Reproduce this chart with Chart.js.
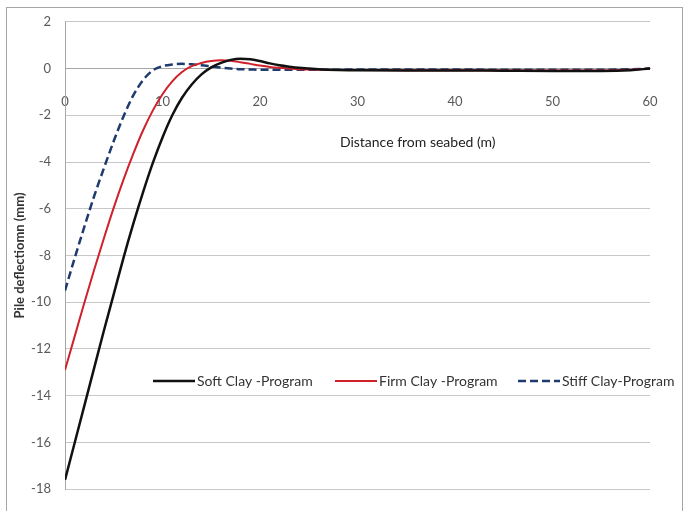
<!DOCTYPE html>
<html>
<head>
<meta charset="utf-8">
<script src="https://cdn.jsdelivr.net/npm/chart.js@4.4.1/dist/chart.umd.min.js"></script>
<style>
html, body { margin: 0; padding: 0; background: #fff; }
#wrap { position: relative; width: 685px; height: 511px; overflow: hidden; }
#frame { position: absolute; left: 6px; top: 7px; width: 677px; height: 510px; border: 1px solid #a6a6a6; box-sizing: border-box; }
canvas { position: absolute; left: 0; top: 0; }
</style>
</head>
<body>
<div id="wrap">
  <div id="frame"></div>
  <canvas id="deflChart" width="685" height="511"></canvas>
</div>
<script>
// distance from seabed (m)
const distance = [0, 1, 2, 3, 4, 5, 6, 7, 8, 9, 10, 11, 12, 13, 14, 15, 16, 17, 18, 19, 20,
    21, 22, 23, 24, 25, 26, 28, 30, 35, 40, 45, 50, 55, 58, 60];

// pile deflection (mm)
const softClay = [-17.6, -16.0, -14.4, -12.8, -11.2, -9.65, -8.1, -6.65, -5.3, -4.05, -2.95,
    -2.0, -1.25, -0.68, -0.25, 0.05, 0.24, 0.37, 0.42, 0.4, 0.32,
    0.22, 0.14, 0.08, 0.03, 0.0, -0.03, -0.06, -0.07, -0.08, -0.08, -0.09, -0.1, -0.1, -0.07, 0.0];
const firmClay = [-12.9, -11.45, -10.0, -8.6, -7.25, -5.95, -4.75, -3.65, -2.65, -1.8, -1.1,
    -0.55, -0.15, 0.1, 0.24, 0.32, 0.35, 0.33, 0.27, 0.2, 0.13,
    0.07, 0.03, 0.0, -0.03, -0.04, -0.05, -0.06, -0.06, -0.07, -0.07, -0.08, -0.08, -0.08, -0.05, 0.0];
const stiffClay = [-9.5, -8.1, -6.75, -5.45, -4.25, -3.1, -2.05, -1.15, -0.5, -0.08, 0.1,
    0.17, 0.2, 0.18, 0.14, 0.09, 0.04, 0.0, -0.03, -0.04, -0.05,
    -0.05, -0.05, -0.05, -0.05, -0.05, -0.05, -0.05, -0.04, -0.04, -0.04, -0.05, -0.05, -0.05, -0.03, 0.0];

const xTicks = [0, 10, 20, 30, 40, 50, 60];
const yTicks = [2, 0, -2, -4, -6, -8, -10, -12, -14, -16, -18];

const toPoints = (ys) => ys.map((y, i) => ({ x: distance[i], y: y }));

// legend sits inside the plot, like the Excel original
const legendX = [153, 335, 518];
const legendInPlot = {
    id: 'legendInPlot',
    afterDraw(chart) {
        const ctx = chart.ctx;
        const y = 381;
        ctx.save();
        ctx.font = '14px Lato';
        ctx.textBaseline = 'middle';
        chart.data.datasets.forEach((ds, i) => {
            const x = legendX[i];
            ctx.beginPath();
            ctx.setLineDash(ds.borderDash || []);
            ctx.strokeStyle = ds.borderColor;
            ctx.lineWidth = ds.borderWidth;
            ctx.moveTo(x, y);
            ctx.lineTo(x + 42, y);
            ctx.stroke();
            ctx.setLineDash([]);
            ctx.fillStyle = '#333';
            ctx.fillText(ds.label, x + 44, y);
        });
        ctx.restore();
    }
};

// x axis title is off-centre in the original
const xTitle = {
    id: 'xTitle',
    afterDraw(chart) {
        const ctx = chart.ctx;
        const area = chart.chartArea;
        ctx.save();
        ctx.font = '14px Lato';
        ctx.fillStyle = '#222';
        ctx.textAlign = 'center';
        ctx.textBaseline = 'middle';
        ctx.fillText('Distance from seabed (m)', area.left + (area.right - area.left) * 0.603, 142);
        ctx.restore();
    }
};

const ctx = document.getElementById('deflChart').getContext('2d');
const deflChart = new Chart(ctx, {
    type: 'line',
    data: {
        datasets: [
            {
                label: 'Soft Clay -Program',
                data: toPoints(softClay),
                borderColor: '#111111',
                borderWidth: 2.5,
            },
            {
                label: 'Firm Clay -Program',
                data: toPoints(firmClay),
                borderColor: '#d0202a',
                borderWidth: 2,
            },
            {
                label: 'Stiff Clay-Program',
                data: toPoints(stiffClay),
                borderColor: '#1f3a6e',
                borderWidth: 2.5,
                borderDash: [8, 4],
            },
        ],
    },
    options: {
        responsive: false,
        animation: false,
        layout: { padding: { left: 0, top: 20, right: 35, bottom: 11 } },
        elements: {
            point: { radius: 0 },
            line: { cubicInterpolationMode: 'monotone', fill: false },
        },
        plugins: {
            legend: { display: false },
            tooltip: { enabled: false },
        },
        scales: {
            x: {
                type: 'linear',
                position: { y: 0 },
                min: 0,
                max: 60,
                afterBuildTicks: (s) => { s.ticks = xTicks.map((v) => ({ value: v })); },
                grid: { display: false, drawTicks: false },
                border: { display: true, color: '#a6a6a6', width: 1 },
                ticks: { padding: 25, color: '#595959', font: { family: 'Lato', size: 13 } },
            },
            y: {
                min: -18,
                max: 2,
                afterBuildTicks: (s) => { s.ticks = yTicks.map((v) => ({ value: v })); },
                afterFit: (s) => { s.width = 65; },
                grid: { color: '#c8c8c8', drawTicks: false },
                border: { display: true, color: '#a6a6a6', width: 1 },
                ticks: { padding: 14, color: '#595959', font: { family: 'Lato', size: 13 } },
                title: {
                    display: true,
                    text: 'Pile deflectiomn (mm)',
                    color: '#333',
                    font: { family: 'Lato', size: 13, weight: 'bold' },
                    padding: { top: 12, bottom: 0 },
                },
            },
        },
    },
    plugins: [legendInPlot, xTitle],
});
</script>
</body>
</html>
